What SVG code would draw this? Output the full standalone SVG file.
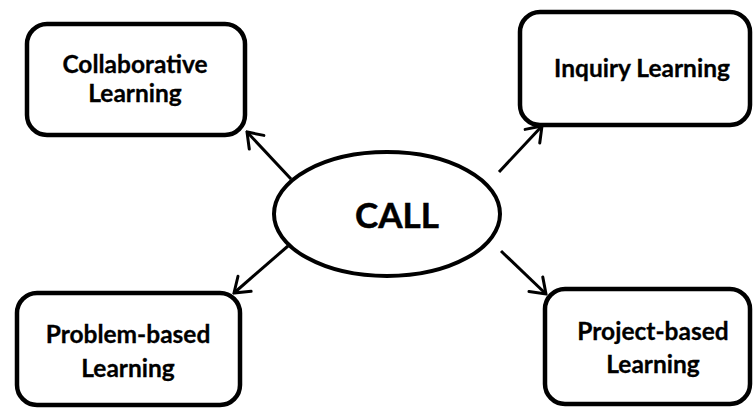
<svg xmlns="http://www.w3.org/2000/svg" width="753" height="408" viewBox="0 0 753 408">
  <style>
    .box { fill: #ffffff; stroke: #000000; stroke-width: 4.5; }
    .hub { fill: #ffffff; stroke: #000000; stroke-width: 4; }
    .lbl { font-family: Lato, "Liberation Sans", sans-serif; font-weight: bold; font-size: 24.5px; fill: #000000; text-anchor: middle; stroke: #000000; stroke-width: 0.3; }
    .big { font-family: Lato, "Liberation Sans", sans-serif; font-weight: bold; font-size: 35px; fill: #000000; text-anchor: middle; stroke: #000000; stroke-width: 0.5; }
    .link { stroke: #000000; stroke-width: 3; fill: none; marker-end: url(#chev); }
  </style>
  <defs>
    <!-- open chevron head, about 17px per arm -->
    <marker id="chev" viewBox="0 0 18 24" refX="16" refY="12" markerWidth="18" markerHeight="24" markerUnits="userSpaceOnUse" orient="auto">
      <path d="M2,2 L16,12 L2,22" fill="none" stroke="#000000" stroke-width="3" stroke-linecap="round" stroke-linejoin="miter"/>
    </marker>
  </defs>
  <rect width="753" height="408" fill="#ffffff"/>

  <g id="connectors">
    <line class="link" x1="291" y1="179" x2="247" y2="132"/>
    <line class="link" x1="499" y1="172" x2="542" y2="126"/>
    <line class="link" x1="288" y1="246" x2="234" y2="293"/>
    <line class="link" x1="501" y1="251" x2="546" y2="294"/>
  </g>

  <g id="collaborative">
    <rect class="box" x="27" y="24" width="218" height="111" rx="20" ry="20"/>
    <text class="lbl" x="135" y="73">Collaborative</text>
    <text class="lbl" x="135" y="102">Learning</text>
  </g>

  <g id="inquiry">
    <rect class="box" x="520" y="12" width="230" height="113" rx="20" ry="20"/>
    <text class="lbl" x="642" y="77">Inquiry Learning</text>
  </g>

  <g id="problem">
    <rect class="box" x="17" y="293" width="223" height="112" rx="20" ry="20"/>
    <text class="lbl" x="128" y="343">Problem-based</text>
    <text class="lbl" x="128" y="377">Learning</text>
  </g>

  <g id="project">
    <rect class="box" x="545" y="289" width="205" height="115" rx="20" ry="20"/>
    <text class="lbl" x="653" y="340">Project-based</text>
    <text class="lbl" x="653" y="373">Learning</text>
  </g>

  <g id="call">
    <ellipse class="hub" cx="387" cy="214" rx="113" ry="62"/>
    <text class="big" x="397" y="228">CALL</text>
  </g>
</svg>
